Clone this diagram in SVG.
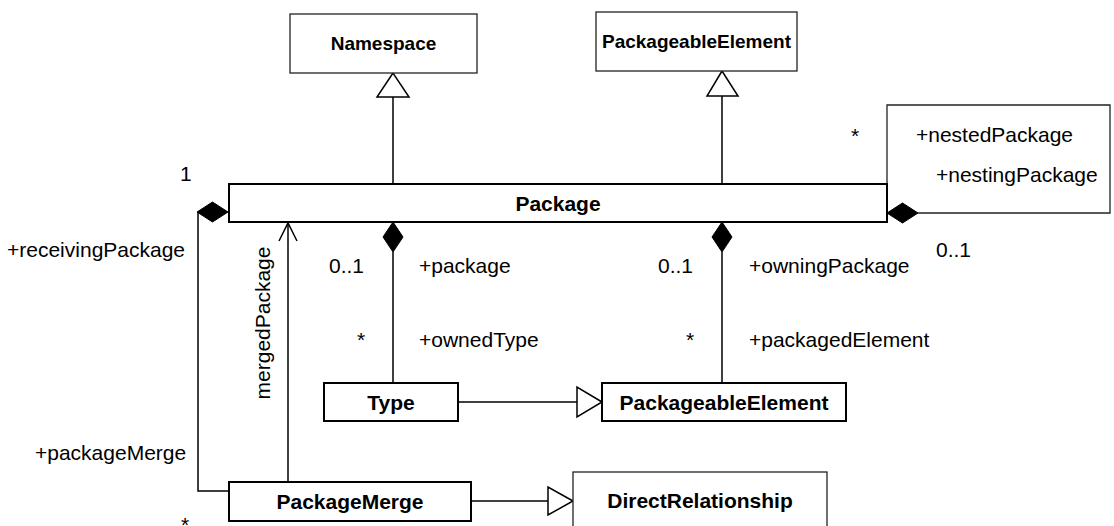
<svg xmlns="http://www.w3.org/2000/svg" width="1114" height="526" viewBox="0 0 1114 526">
<style>
.box{fill:#fff;stroke:#000;stroke-width:2}
.box2{fill:#fff;stroke:#222;stroke-width:1.3}
.name{font-family:"Liberation Sans",Arial,sans-serif;font-weight:bold;font-size:21px;text-anchor:middle;fill:#000}
.name2{font-family:"Liberation Sans",Arial,sans-serif;font-weight:bold;font-size:19px;text-anchor:middle;fill:#000}
.lbl{font-family:"Liberation Sans",Arial,sans-serif;font-size:21px;fill:#000}
.ln{fill:none;stroke:#000;stroke-width:1.5}
.ln2{fill:none;stroke:#222;stroke-width:1.3}
.tri{fill:#fff;stroke:#000;stroke-width:1.5}
.dia{fill:#000;stroke:#000;stroke-width:1}
</style>
<rect width="1114" height="526" fill="#fff"/>
<g id="connectors">
  <line class="ln" x1="393" y1="184" x2="393" y2="97"/>
  <polygon class="tri" points="393,73 377,97 409,97"/>
  <line class="ln" x1="722" y1="184" x2="722" y2="96"/>
  <polygon class="tri" points="722,71 707,96 738,96"/>
  <line class="ln" x1="393" y1="252" x2="393" y2="383"/>
  <polygon class="dia" points="393,222 403,237 393,252 383,237"/>
  <line class="ln" x1="722" y1="252" x2="722" y2="383"/>
  <polygon class="dia" points="722,222 732,237 722,252 712,237"/>
  <line class="ln" x1="458" y1="402" x2="577" y2="402"/>
  <polygon class="tri" points="602,402 577,387 577,417"/>
  <line class="ln" x1="471" y1="501" x2="548" y2="501"/>
  <polygon class="tri" points="573,501 548,487 548,515"/>
  <polyline class="ln" points="198,212 198,491 229,491"/>
  <polygon class="dia" points="228,212 212.5,202 197,212 212.5,222"/>
  <line class="ln" x1="288" y1="482" x2="288" y2="223"/>
  <polyline class="ln" points="279,241 288,223 297,241"/>
  <polyline class="ln2" points="887,184 887,105 1110,105 1110,213 918,213"/>
  <polygon class="dia" points="887,213 902.5,203 918,213 902.5,223"/>
</g>
<g id="Namespace"><rect class="box2" x="290" y="14" width="187" height="59"/><text class="name2" x="383.5" y="50">Namespace</text></g>
<g id="PackageableElementTop"><rect class="box2" x="596" y="12" width="201" height="59"/><text class="name2" x="696.5" y="48">PackageableElement</text></g>
<g id="Package"><rect class="box" x="229" y="184" width="658" height="38"/><text class="name" x="558" y="210.5">Package</text></g>
<g id="Type"><rect class="box" x="324" y="383" width="134" height="38"/><text class="name" x="391" y="409.5">Type</text></g>
<g id="PackageableElement"><rect class="box" x="602" y="383" width="244" height="38"/><text class="name" x="724" y="409.5">PackageableElement</text></g>
<g id="PackageMerge"><rect class="box" x="229" y="482" width="242" height="39"/><text class="name" x="350" y="509">PackageMerge</text></g>
<g id="DirectRelationship"><rect class="box2" x="573" y="472" width="254" height="70"/><text class="name" x="700" y="508">DirectRelationship</text></g>
<g id="labels">
  <text class="lbl" x="180" y="181">1</text>
  <text class="lbl" x="7" y="257">+receivingPackage</text>
  <text class="lbl" x="35" y="460">+packageMerge</text>
  <text class="lbl" x="185" y="532" text-anchor="middle">*</text>
  <text class="lbl" x="270" y="323" text-anchor="middle" transform="rotate(-90 270 323)">mergedPackage</text>
  <text class="lbl" x="329" y="273">0..1</text>
  <text class="lbl" x="419" y="273">+package</text>
  <text class="lbl" x="361" y="347" text-anchor="middle">*</text>
  <text class="lbl" x="419" y="347">+ownedType</text>
  <text class="lbl" x="658" y="273">0..1</text>
  <text class="lbl" x="749" y="273">+owningPackage</text>
  <text class="lbl" x="690" y="347" text-anchor="middle">*</text>
  <text class="lbl" x="749" y="347">+packagedElement</text>
  <text class="lbl" x="855" y="143" text-anchor="middle">*</text>
  <text class="lbl" x="916" y="142">+nestedPackage</text>
  <text class="lbl" x="936" y="182">+nestingPackage</text>
  <text class="lbl" x="936" y="257">0..1</text>
</g>
</svg>
